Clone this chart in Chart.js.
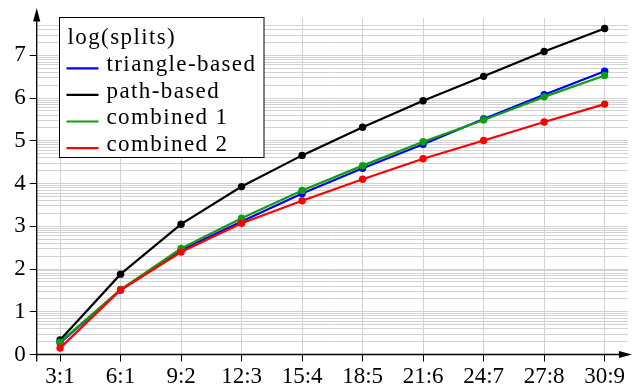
<!DOCTYPE html>
<html>
<head>
<meta charset="utf-8">
<script src="https://cdn.jsdelivr.net/npm/chart.js@4/dist/chart.umd.min.js"></script>
<style>
  html, body { margin: 0; padding: 0; background: #fff; }
  #wrap { width: 632px; height: 392px; position: relative; }
  #probe { position: absolute; left: -999px; top: 0; font-family: "Liberation Serif"; font-size: 23px; }
</style>
</head>
<body>
<div id="wrap"><canvas id="splitsChart"></canvas></div>
<span id="probe">log(splits) 0123456789</span>
<script>
const categories = ['3:1', '6:1', '9:2', '12:3', '15:4', '18:5', '21:6', '24:7', '27:8', '30:9'];
const triangleBased = [0.27, 1.51, 2.44, 3.11, 3.77, 4.36, 4.92, 5.51, 6.08, 6.63];
const pathBased = [0.34, 1.88, 3.05, 3.93, 4.66, 5.32, 5.94, 6.51, 7.09, 7.63];
const combined1 = [0.29, 1.52, 2.48, 3.19, 3.84, 4.42, 4.98, 5.49, 6.03, 6.53];
const combined2 = [0.15, 1.51, 2.40, 3.07, 3.60, 4.10, 4.58, 5.01, 5.44, 5.86];
const yLabels = [0, 1, 2, 3, 4, 5, 6, 7];
const legendTitle = 'log(splits)';

const FONT = "'Liberation Serif'";

function pts(arr) {
  return arr.map((v, i) => ({ x: i, y: v }));
}

function series(label, data, color, order) {
  return {
    label: label,
    data: pts(data),
    borderColor: color,
    backgroundColor: color,
    pointBackgroundColor: color,
    pointBorderWidth: 0,
    pointRadius: 3.7,
    borderWidth: 2.2,
    tension: 0,
    order: order
  };
}

// y grid: integers plus log-style minor lines in each unit
function yGridValues(max) {
  const vals = [];
  yLabels.forEach(n => {
    for (let k = 1; k <= 9; k++) {
      const v = n + Math.log10(k);
      if (v <= max) vals.push({ value: v });
    }
  });
  return vals;
}

const isInt = v => Math.abs(v - Math.round(v)) < 1e-9;

// axis arrows + legend box drawn on the canvas
const axesAndLegend = {
  id: 'axesAndLegend',
  afterDraw(chart) {
    const ctx = chart.ctx;
    const a = chart.chartArea;
    ctx.save();
    ctx.strokeStyle = '#000';
    ctx.fillStyle = '#000';
    ctx.lineWidth = 1.3;
    // y axis up to arrow, and a bit below the x axis
    ctx.beginPath();
    ctx.moveTo(a.left, a.bottom + 7);
    ctx.lineTo(a.left, 12);
    ctx.stroke();
    ctx.beginPath();
    ctx.moveTo(a.left, 8);
    ctx.lineTo(a.left - 3.6, 21.5);
    ctx.lineTo(a.left + 3.6, 21.5);
    ctx.closePath();
    ctx.fill();
    // x axis to arrow
    ctx.beginPath();
    ctx.moveTo(a.left, a.bottom);
    ctx.lineTo(628, a.bottom);
    ctx.stroke();
    ctx.beginPath();
    ctx.moveTo(632, a.bottom);
    ctx.lineTo(619, a.bottom - 3.6);
    ctx.lineTo(619, a.bottom + 3.6);
    ctx.closePath();
    ctx.fill();

    // legend
    const bx = 59.5, by = 17.5, bw = 204.5, bh = 140;
    ctx.fillStyle = '#fff';
    ctx.fillRect(bx, by, bw, bh);
    ctx.lineWidth = 1;
    ctx.strokeStyle = '#000';
    ctx.strokeRect(bx, by, bw, bh);
    ctx.font = '23px ' + FONT;
    ctx.letterSpacing = '1.4px';
    ctx.fillStyle = '#000';
    ctx.textBaseline = 'alphabetic';
    ctx.textAlign = 'left';
    ctx.fillText(legendTitle, 67.5, 43.5);
    chart.data.datasets.forEach((ds, i) => {
      const base = 71 + i * 26.6;
      ctx.strokeStyle = ds.borderColor;
      ctx.lineWidth = 2.2;
      ctx.beginPath();
      ctx.moveTo(66.5, base - 2.7);
      ctx.lineTo(98.5, base - 2.7);
      ctx.stroke();
      ctx.fillStyle = '#000';
      ctx.fillText(ds.label, 106.5, base);
    });
    ctx.restore();
  }
};

const Y_MAX = 7.88;

function draw() {
  new Chart(document.getElementById('splitsChart').getContext('2d'), {
    type: 'line',
    data: {
      datasets: [
        series('triangle-based', triangleBased, '#0000ff', 4),
        series('path-based', pathBased, '#000000', 3),
        series('combined 1', combined1, '#0ca00c', 2),
        series('combined 2', combined2, '#ff0000', 1)
      ]
    },
    options: {
      responsive: true,
      maintainAspectRatio: false,
      animation: false,
      layout: { padding: { top: 15, right: 4, left: 0, bottom: 0 } },
      plugins: {
        legend: { display: false },
        tooltip: { enabled: false }
      },
      scales: {
        x: {
          type: 'linear',
          min: -0.386,
          max: 9.386,
          afterBuildTicks: scale => {
            scale.ticks = categories.map((c, i) => ({ value: i }));
          },
          afterFit: scale => { scale.height = 37.5; },
          ticks: {
            autoSkip: false,
            maxRotation: 0,
            padding: 2,
            color: '#000',
            font: { family: FONT, size: 23 },
            callback: v => categories[v]
          },
          grid: { color: '#d2d2d2', lineWidth: 1, tickColor: '#000', tickLength: 7 },
          border: { display: false }
        },
        y: {
          min: 0,
          max: Y_MAX,
          afterBuildTicks: scale => {
            scale.ticks = yGridValues(7.72);
          },
          afterFit: scale => { scale.width = 36.7; },
          ticks: {
            autoSkip: false,
            padding: 4,
            color: '#000',
            font: { family: FONT, size: 23 },
            callback: v => isInt(v) ? String(Math.round(v)) : ''
          },
          grid: {
            color: '#d2d2d2',
            lineWidth: 1,
            tickLength: 7,
            tickColor: c => (c.tick && isInt(c.tick.value)) ? '#000' : 'rgba(0,0,0,0)'
          },
          border: { display: false }
        }
      }
    },
    plugins: [axesAndLegend]
  });
}

if (document.fonts && document.fonts.load) {
  document.fonts.load("23px 'Liberation Serif'").then(draw, draw);
} else {
  draw();
}
</script>
</body>
</html>
